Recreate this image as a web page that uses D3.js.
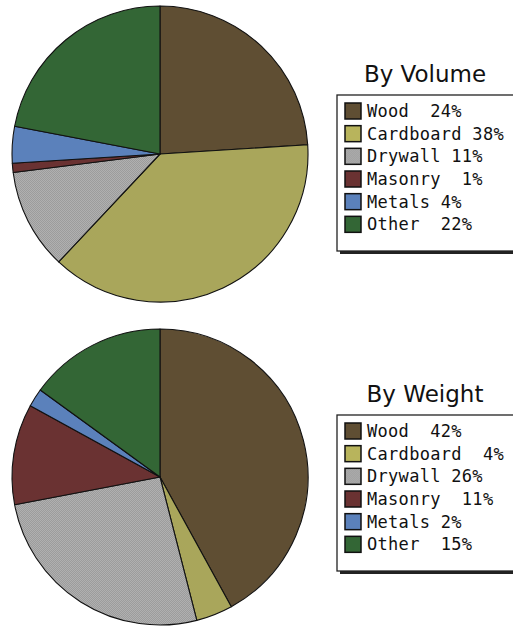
<!DOCTYPE html>
<html>
<head>
<meta charset="utf-8">
<script src="https://cdn.jsdelivr.net/npm/d3@7"></script>
<style>
  html, body { margin: 0; padding: 0; background: #ffffff; }
  svg { display: block; }
  text { white-space: pre; }
</style>
</head>
<body>
<svg id="chart" width="513" height="626"></svg>
<script>
// ---- data ----
const categories = ["Wood", "Cardboard", "Drywall", "Masonry", "Metals", "Other"];
const volumeValues = [24, 38, 11, 1, 4, 22];
const weightValues = [42, 4, 26, 11, 2, 15];
const volumeLabels = ["Wood  24%", "Cardboard 38%", "Drywall 11%", "Masonry  1%", "Metals 4%", "Other  22%"];
const weightLabels = ["Wood  42%", "Cardboard  4%", "Drywall 26%", "Masonry  11%", "Metals 2%", "Other  15%"];
const chartTitles = ["By Volume", "By Weight"];
const sliceColors = ["#5f4e33", "#a9a65b", "#a9a9a9", "#6a3232", "#5b81bb", "#336635"];
const swatchColors = ["#5f4e33", "#b8b45c", "#adadad", "#6a3232", "#5b81bb", "#336635"];

// ---- drawing ----
const svg = d3.select("#chart");
const defs = svg.append("defs");
const pat = defs.append("pattern").attr("id", "dither")
  .attr("width", 2).attr("height", 2).attr("patternUnits", "userSpaceOnUse");
pat.append("rect").attr("width", 2).attr("height", 2).attr("fill", "#b0b0b0");
pat.append("rect").attr("width", 1).attr("height", 1).attr("fill", "#9c9c9c");
pat.append("rect").attr("x", 1).attr("y", 1).attr("width", 1).attr("height", 1).attr("fill", "#9c9c9c");

const pie = d3.pie().sort(null).value(d => d);
const radius = 148;
const arc = d3.arc().innerRadius(0).outerRadius(radius);

const panels = [
  { values: volumeValues, labels: volumeLabels, title: chartTitles[0], cx: 160, cy: 154, top: 0 },
  { values: weightValues, labels: weightLabels, title: chartTitles[1], cx: 160, cy: 477, top: 320 }
];

const rowScale = d3.scaleBand().domain(d3.range(categories.length)).range([0, 136]).padding(0);

panels.forEach(p => {
  const g = svg.append("g").attr("transform", `translate(${p.cx},${p.cy})`);
  g.selectAll("path").data(pie(p.values)).join("path")
    .attr("d", arc)
    .attr("fill", (d, i) => categories[i] === "Drywall" ? "url(#dither)" : sliceColors[i])
    .attr("stroke", "#111")
    .attr("stroke-width", 1.1)
    .attr("stroke-linejoin", "round");

  // title
  const boxTop = p.top + 95;
  svg.append("text")
    .attr("x", 425).attr("y", boxTop - 13)
    .attr("text-anchor", "middle")
    .attr("font-family", "DejaVu Sans, sans-serif")
    .attr("font-size", 23)
    .attr("fill", "#111")
    .text(p.title);

  // legend box with shadow
  const boxLeft = 337, boxW = 185, boxH = 156;
  svg.append("rect").attr("x", boxLeft + 3).attr("y", boxTop + 3)
    .attr("width", boxW).attr("height", boxH).attr("fill", "#222");
  svg.append("rect").attr("x", boxLeft).attr("y", boxTop)
    .attr("width", boxW).attr("height", boxH)
    .attr("fill", "#fff").attr("stroke", "#222").attr("stroke-width", 1.3);

  const rows = svg.append("g").attr("transform", `translate(${boxLeft + 8},${boxTop + 8})`);
  const items = rows.selectAll("g").data(p.labels).join("g")
    .attr("transform", (d, i) => `translate(0,${rowScale(i)})`);
  items.append("rect")
    .attr("x", 0).attr("y", 0).attr("width", 16).attr("height", 16)
    .attr("fill", (d, i) => categories[i] === "Drywall" ? "url(#dither)" : swatchColors[i])
    .attr("stroke", "#111").attr("stroke-width", 1.5);
  items.append("text")
    .attr("x", 22).attr("y", 14)
    .attr("font-family", "DejaVu Sans Mono, monospace")
    .attr("font-size", 17)
    .attr("letter-spacing", 0.3)
    .attr("fill", "#111")
    .attr("xml:space", "preserve")
    .text(d => d);
});
</script>
</body>
</html>
